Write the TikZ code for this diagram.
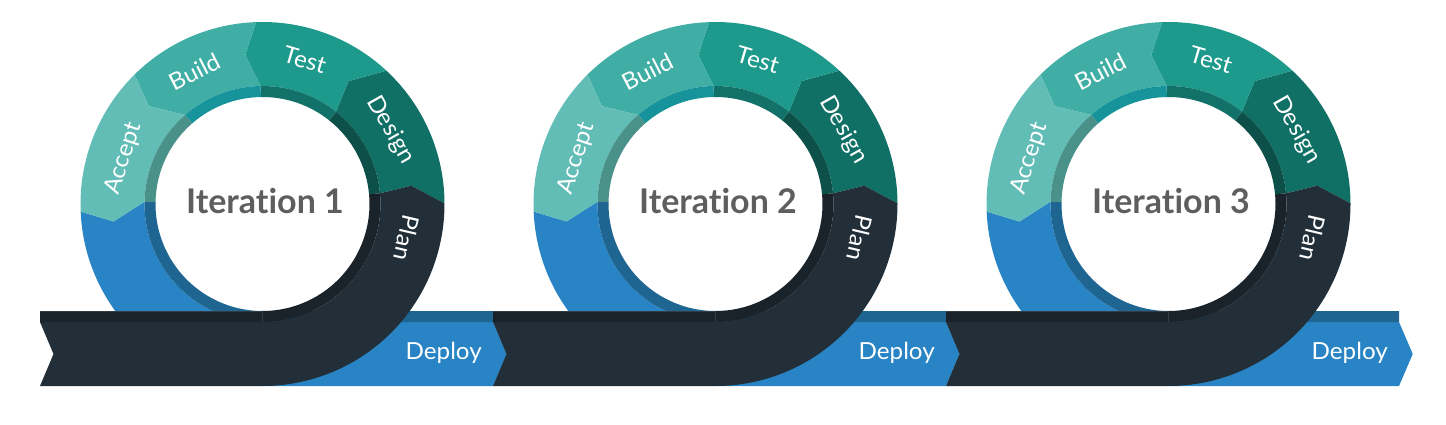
\documentclass[tikz,border=0pt]{standalone}
\usepackage{fontspec}
\setmainfont{Lato}[Ligatures={NoCommon,NoRare}]
\newfontfamily\lblfont{Lato}[FakeStretch=1.03, Ligatures={NoCommon,NoRare}]
\definecolor{cAccept}{HTML}{62BDB7}
\definecolor{cBuild}{HTML}{40AEA5}
\definecolor{cTest}{HTML}{1D9A8C}
\definecolor{cDesign}{HTML}{117066}
\definecolor{cPlan}{HTML}{222F39}
\definecolor{cBlue}{HTML}{2884C4}
\definecolor{iAccept}{HTML}{4A918A}
\definecolor{iBuild}{HTML}{17949B}
\definecolor{iTest}{HTML}{12726A}
\definecolor{iDesign}{HTML}{0D5049}
\definecolor{iPlan}{HTML}{1A232A}
\definecolor{iBlue}{HTML}{1F6592}
\definecolor{cEdge}{HTML}{323D46}
\definecolor{cTitle}{HTML}{5F5D5E}
\newcommand{\ringseg}[7]{%
  \fill[#1] (#2:182) arc[start angle=#2, end angle=#5, radius=182] -- (#6:150) -- (#7:118)
    arc[start angle=#7, end angle=#4, radius=118] -- (#3:150) -- cycle;}
\newcommand{\innerseg}[3]{%
  \fill[#1] (#2:118) arc[start angle=#2, end angle=#3, radius=118] -- (#3:107)
    arc[start angle=#3, end angle=#2, radius=107] -- cycle;}
\tikzset{
  seglabel/.style={text=white, font=\lblfont\fontsize{23.5}{28}\selectfont, inner sep=0pt},
  titlelabel/.style={text=cTitle, font=\fontsize{34}{40}\selectfont\bfseries, inner sep=0pt, anchor=base},
  edgeline/.style={draw=cEdge, line width=0.6pt}
}
\begin{document}
\begin{tikzpicture}[x=1pt,y=1pt]
\useasboundingbox (0,0) rectangle (1446,424);
\fill[white] (0,0) rectangle (1446,424);
\foreach \k/\n in {0/1,1/2,2/3}{
\begin{scope}[shift={({262.5+453*\k},220)}]
  % blue (deploy) part
  \fill[cBlue] (182.4:182) arc[start angle=182.4, end angle=270, radius=182]
     -- (230.5,-182) -- (244.2,-150) -- (230.5,-118) -- (0,-118)
     arc[start angle=270, end angle=178.9, radius=118] -- (186.7:150) -- cycle;
  \fill[iBlue] (178.9:118) arc[start angle=178.9, end angle=270, radius=118]
     -- (230.5,-118) -- (230.5,-107) -- (0,-107)
     arc[start angle=270, end angle=178.9, radius=107] -- cycle;
  % ring segments
  \ringseg{cDesign}{0.2}{7.0}{5.2}{47.1}{55.0}{51.5}
  \ringseg{cTest}{47.1}{55.0}{51.5}{92.0}{96.6}{90.9}
  \ringseg{cBuild}{92.0}{96.6}{90.9}{134.7}{139.3}{131.0}
  \ringseg{cAccept}{134.7}{139.3}{131.0}{182.4}{186.7}{178.9}
  \innerseg{iDesign}{5.2}{51.5}
  \innerseg{iTest}{51.5}{90.9}
  \innerseg{iBuild}{90.9}{131.0}
  \innerseg{iAccept}{131.0}{178.9}
  % plan part (band + ring)
  \fill[cPlan] (-222.5,-182) -- (0,-182) arc[start angle=-90, end angle=0.2, radius=182]
     -- (7.0:150) -- (5.2:118) arc[start angle=5.2, end angle=-90, radius=118]
     -- (-222.5,-118) -- (-209,-150) -- cycle;
  \fill[iPlan] (-222.5,-118) -- (0,-118) arc[start angle=-90, end angle=5.2, radius=118]
     -- (5.2:107) arc[start angle=5.2, end angle=-90, radius=107] -- (-222.5,-107) -- cycle;
  \draw[edgeline] (-222.2,-107.3) -- (0,-107.3);
  \draw[edgeline, line width=0.4pt] (0,-107.3) -- (0,-118);
  % labels
  \node[seglabel, rotate=-16.4] (test\n) at (73.6:150) {Test};
  \node[seglabel, rotate=-60.5] (design\n) at (30.1:148) {Design};
  \node[seglabel, rotate=-103.3] (plan\n) at (-13.3:148) {Plan};
  \node[seglabel, rotate=27] (build\n) at (117:148.5) {Build};
  \node[seglabel, rotate=71.8] (accept\n) at (161.8:146) {Accept};
  \node[seglabel, anchor=base] (deploy\n) at (181.2,-155) {Deploy};
  \node[titlelabel] (iter\n) at (2.5,-9) {Iteration \n};
\end{scope}
}
\end{tikzpicture}
\end{document}
